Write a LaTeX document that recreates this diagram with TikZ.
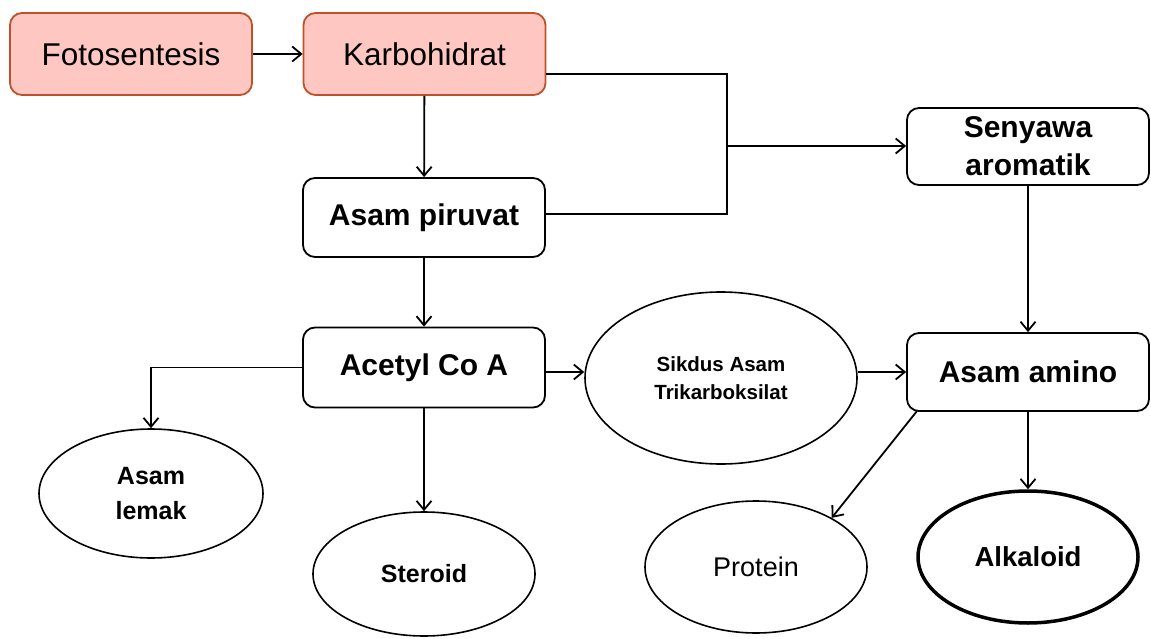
\documentclass[tikz,border=0pt]{standalone}
\usepackage{fontspec}
\setmainfont{Liberation Sans}
\usetikzlibrary{arrows.meta,shapes.geometric}
\definecolor{pinkfill}{RGB}{255,199,193}
\definecolor{pinkline}{RGB}{192,80,40}
\begin{document}
\begin{tikzpicture}[x=1pt,y=-1pt,
  box/.style={draw=black,line width=1.8pt,rounded corners=12pt,fill=white,minimum width=242pt,minimum height=80pt,inner sep=0pt,align=center},
  pinkbox/.style={box,draw=pinkline,fill=pinkfill,minimum height=82pt,font=\fontsize{31.5}{36}\selectfont},
  boldtxt/.style={font=\fontsize{30}{36}\selectfont\bfseries},
  oval/.style={ellipse,draw=black,line width=1.6pt,fill=white,inner sep=0pt,align=center},
  arr/.style={line width=1.8pt,-{Straight Barb[length=9pt,width=15pt,line width=1.8pt]}},
  conn/.style={line width=1.8pt}]
\useasboundingbox (0,0) rectangle (1151,639);

\node[pinkbox] (foto) at (131,54) {Fotosentesis};
\node[pinkbox] (karbo) at (424.5,54) {Karbohidrat};
\node[box,boldtxt,minimum height=79pt] (piru) at (424,217.5) {Asam piruvat};
\node[box,minimum height=77pt,font=\fontsize{30}{38}\selectfont\bfseries] (seny) at (1028,146.5) {Senyawa\\aromatik};
\node[box,boldtxt] (acetyl) at (424,367.5) {Acetyl Co A};
\node[box,boldtxt,minimum height=78pt] (amino) at (1028,372) {Asam amino};

\node[oval,minimum width=272pt,minimum height=172pt,font=\fontsize{20.5}{28}\selectfont\bfseries] (sikdus) at (721,378) {Sikdus Asam\\Trikarboksilat};
\node[oval,minimum width=224pt,minimum height=129pt,font=\fontsize{25}{35}\selectfont\bfseries] (lemak) at (151,493.5) {Asam\\lemak};
\node[oval,minimum width=222pt,minimum height=124pt,font=\fontsize{25}{30}\selectfont\bfseries] (steroid) at (424,574) {Steroid};
\node[oval,minimum width=222pt,minimum height=132pt,font=\fontsize{27}{32}\selectfont] (protein) at (756,567) {Protein};
\node[oval,line width=3.5pt,minimum width=220pt,minimum height=132pt,font=\fontsize{27.5}{32}\selectfont\bfseries] (alk) at (1028,557) {Alkaloid};

\coordinate (jt) at (727,74);
\coordinate (jm) at (727,146);
\coordinate (jb) at (727,214);
\coordinate (ap) at (917,411);

\draw[arr] (foto) -- (karbo);
\draw[arr] (karbo) -- (piru);
\draw[conn] (karbo.east |- jt) -- (jt) -- (jb) -- (piru.east |- jb);
\draw[arr] (jm) -- (seny.west |- jm);
\draw[arr] (seny) -- (amino);
\draw[arr] (piru) -- (acetyl);
\draw[arr] (acetyl.east |- amino.west) -- (sikdus.west |- amino.west);
\draw[arr] (sikdus.east |- amino.west) -- (amino.west);
\draw[arr] (acetyl.west) -| (lemak.north);
\draw[arr] (acetyl) -- (steroid);
\draw[arr] (ap) -- (protein.33);
\draw[arr] (amino) -- (alk);
\end{tikzpicture}
\end{document}
